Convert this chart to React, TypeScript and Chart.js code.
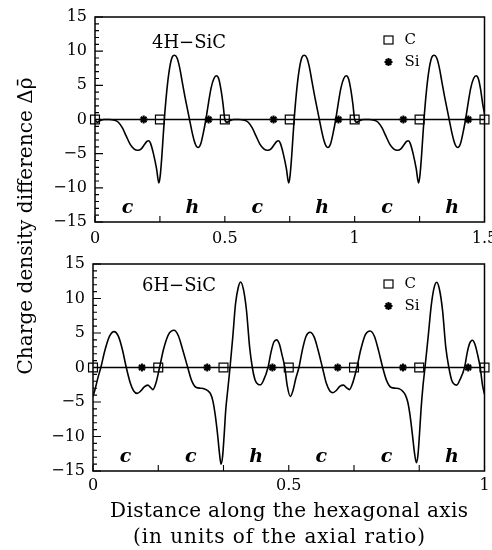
import { useEffect, useRef } from 'react';
import { Chart, registerables } from 'chart.js';

Chart.register(...registerables);

// Charge density difference along the c axis, 4H-SiC: [distance, delta rho]
const fourHProfile: [number, number][] = [
  [0, 0], [0.008, -0.4], [0.018, -0.2], [0.035, 0], [0.055, 0], [0.075, -0.1], [0.09, -0.4], [0.105, -1.2],
  [0.12, -2.4], [0.135, -3.6], [0.15, -4.3], [0.165, -4.5], [0.178, -4.3], [0.19, -3.7], [0.2, -3.2], [0.207, -3.1],
  [0.214, -3.5], [0.225, -5.0], [0.237, -7.2], [0.246, -9.3], [0.251, -8.3], [0.257, -5.6], [0.263, -2.2], [0.269, 1.0],
  [0.277, 4.4], [0.286, 7.2], [0.296, 9.0], [0.306, 9.4], [0.316, 9.0], [0.326, 7.6], [0.335, 5.7], [0.345, 3.6],
  [0.355, 1.7], [0.364, 0], [0.373, -1.7], [0.382, -3.1], [0.39, -3.9], [0.397, -4.1], [0.407, -3.6], [0.417, -2.0],
  [0.427, 0], [0.437, 2.4], [0.447, 4.6], [0.458, 6.0], [0.468, 6.4], [0.477, 5.9], [0.485, 4.4], [0.493, 2.3],
  [0.5, 0], [0.508, -0.4], [0.518, -0.2], [0.535, 0], [0.555, 0], [0.575, -0.1], [0.59, -0.4], [0.605, -1.2],
  [0.62, -2.4], [0.635, -3.6], [0.65, -4.3], [0.665, -4.5], [0.678, -4.3], [0.69, -3.7], [0.7, -3.2], [0.707, -3.1],
  [0.714, -3.5], [0.725, -5.0], [0.737, -7.2], [0.746, -9.3], [0.751, -8.3], [0.757, -5.6], [0.763, -2.2], [0.769, 1.0],
  [0.777, 4.4], [0.786, 7.2], [0.796, 9.0], [0.806, 9.4], [0.816, 9.0], [0.826, 7.6], [0.835, 5.7], [0.845, 3.6],
  [0.855, 1.7], [0.864, 0], [0.873, -1.7], [0.882, -3.1], [0.89, -3.9], [0.897, -4.1], [0.907, -3.6], [0.917, -2.0],
  [0.927, 0], [0.937, 2.4], [0.947, 4.6], [0.958, 6.0], [0.968, 6.4], [0.977, 5.9], [0.985, 4.4], [0.993, 2.3],
  [1.0, 0], [1.008, -0.4], [1.018, -0.2], [1.035, 0], [1.055, 0], [1.075, -0.1], [1.09, -0.4], [1.105, -1.2],
  [1.12, -2.4], [1.135, -3.6], [1.15, -4.3], [1.165, -4.5], [1.178, -4.3], [1.19, -3.7], [1.2, -3.2], [1.207, -3.1],
  [1.214, -3.5], [1.225, -5.0], [1.237, -7.2], [1.246, -9.3], [1.251, -8.3], [1.257, -5.6], [1.263, -2.2], [1.269, 1.0],
  [1.277, 4.4], [1.286, 7.2], [1.296, 9.0], [1.306, 9.4], [1.316, 9.0], [1.326, 7.6], [1.335, 5.7], [1.345, 3.6],
  [1.355, 1.7], [1.364, 0], [1.373, -1.7], [1.382, -3.1], [1.39, -3.9], [1.397, -4.1], [1.407, -3.6], [1.417, -2.0],
  [1.427, 0], [1.437, 2.4], [1.447, 4.6], [1.458, 6.0], [1.468, 6.4], [1.477, 5.9], [1.485, 4.4], [1.493, 2.3], [1.5, 0.8],
];

// Charge density difference along the c axis, 6H-SiC: [distance, delta rho]
const sixHProfile: [number, number][] = [
  [0, -4.2], [0.006, -3.0], [0.013, -1.4], [0.02, 0], [0.03, 2.4], [0.042, 4.5], [0.054, 5.2], [0.065, 4.5],
  [0.075, 2.6], [0.085, 0], [0.095, -2.2], [0.104, -3.4], [0.113, -3.75], [0.122, -3.4], [0.131, -2.8], [0.14, -2.55],
  [0.147, -2.9], [0.153, -3.2], [0.16, -2.4], [0.17, 0], [0.18, 2.6], [0.193, 4.8], [0.207, 5.4], [0.218, 4.6],
  [0.23, 2.4], [0.242, 0], [0.252, -1.9], [0.264, -2.9], [0.275, -3.0], [0.285, -3.1], [0.294, -3.4], [0.3, -3.8],
  [0.306, -4.8], [0.312, -6.8], [0.318, -9.6], [0.323, -12.4], [0.327, -14.0], [0.331, -12.9], [0.335, -9.8], [0.339, -6.2],
  [0.345, -2.8], [0.35, 0], [0.357, 4.4], [0.364, 9.2], [0.371, 11.6], [0.377, 12.4], [0.384, 11.4], [0.392, 8.3],
  [0.4, 3.0], [0.407, 0], [0.414, -1.8], [0.421, -2.4], [0.428, -2.5], [0.436, -1.8], [0.447, 0], [0.455, 2.3],
  [0.462, 3.7], [0.469, 4.0], [0.476, 3.4], [0.483, 1.8], [0.49, 0], [0.496, -2.6],
  [0.504, -4.2], [0.511, -3.3], [0.518, -1.6], [0.526, 0], [0.535, 2.6], [0.544, 4.5], [0.554, 5.1], [0.565, 4.4],
  [0.575, 2.5], [0.586, 0], [0.596, -2.3], [0.605, -3.4], [0.613, -3.65], [0.622, -3.3], [0.631, -2.7], [0.64, -2.55],
  [0.647, -2.9], [0.655, -3.2], [0.663, -2.3], [0.674, 0], [0.684, 2.6], [0.696, 4.8], [0.708, 5.3], [0.719, 4.5],
  [0.73, 2.3], [0.74, 0], [0.75, -1.9], [0.762, -2.9], [0.773, -3.0], [0.783, -3.1], [0.792, -3.5], [0.798, -4.0],
  [0.804, -5.0], [0.81, -7.0], [0.816, -9.8], [0.821, -12.3], [0.826, -13.8], [0.83, -12.7], [0.834, -9.6], [0.838, -6.0],
  [0.843, -2.6], [0.848, 0], [0.856, 4.4], [0.864, 9.0], [0.871, 11.5], [0.878, 12.35], [0.885, 11.3], [0.893, 8.2],
  [0.901, 3.0], [0.909, 0], [0.916, -1.8], [0.922, -2.4], [0.929, -2.55], [0.937, -1.8], [0.949, 0], [0.956, 2.2],
  [0.962, 3.5], [0.969, 3.95], [0.976, 3.3], [0.983, 1.7], [0.989, 0], [0.995, -2.6], [1.0, -3.9],
];

// Atomic positions along the axis
const fourHCarbon = [0, 0.25, 0.5, 0.75, 1, 1.25, 1.5];
const fourHSilicon = [0.1875, 0.4375, 0.6875, 0.9375, 1.1875, 1.4375];
const sixHCarbon = [0, 0.1667, 0.3333, 0.5, 0.6667, 0.8333, 1];
const sixHSilicon = [0.125, 0.2917, 0.4583, 0.625, 0.7917, 0.9583];

// Stacking sites (cubic / hexagonal) and the centre of each layer
const fourHSites = ['c', 'h', 'c', 'h', 'c', 'h'];
const fourHSiteCentres = [0.125, 0.375, 0.625, 0.875, 1.125, 1.375];
const sixHSites = ['c', 'c', 'h', 'c', 'c', 'h'];
const sixHSiteCentres = [0.0833, 0.25, 0.4167, 0.5833, 0.75, 0.9167];

// Axis ticks
const densityTicks = [-15, -14, -13, -12, -11, -10, -9, -8, -7, -6, -5, -4, -3, -2, -1, 0, 1, 2, 3, 4, 5, 6, 7, 8, 9, 10, 11, 12, 13, 14, 15];
const densityLabels = [-15, -10, -5, 0, 5, 10, 15];
const fourHDistanceTicks = [0, 0.25, 0.5, 0.75, 1, 1.25, 1.5];
const fourHDistanceLabels = [0, 0.5, 1, 1.5];
const sixHDistanceTicks = [0, 0.1667, 0.3333, 0.5, 0.6667, 0.8333, 1];
const sixHDistanceLabels = [0, 0.5, 1];

const SERIF = '"DejaVu Serif", serif';
const has = (list: number[], v: number) => list.some((l) => Math.abs(l - v) < 1e-6);
const fmt = (v: number) => (v < 0 ? '\u2212' + Math.abs(v) : String(v));

type PanelProps = {
  top: number;
  height: number;
  area: { left: number; top: number; right: number; bottom: number };
  xMax: number;
  profile: [number, number][];
  carbon: number[];
  silicon: number[];
  sites: string[];
  siteCentres: number[];
  xTicks: number[];
  xLabels: number[];
  name: string;
  nameDx: number;
  nameDy: number;
  legendDy: number;
  xPad: number;
  yPad: number;
};

function Panel(p: PanelProps) {
  const ref = useRef<HTMLCanvasElement>(null);

  useEffect(() => {
    const canvas = ref.current;
    if (!canvas) return;

    const frame = {
      id: 'frame',
      afterDraw(chart: any) {
        const { ctx, chartArea: a, scales } = chart;
        const xs = scales.x;
        const ys = scales.y;
        ctx.save();
        ctx.strokeStyle = '#000';
        ctx.fillStyle = '#000';
        ctx.lineWidth = 1.5;
        ctx.strokeRect(a.left, a.top, a.right - a.left, a.bottom - a.top);

        // inward tick marks
        ctx.lineWidth = 1.1;
        ctx.beginPath();
        for (const t of xs.ticks) {
          const px = xs.getPixelForValue(t.value);
          ctx.moveTo(px, a.bottom);
          ctx.lineTo(px, a.bottom - 6);
        }
        for (const t of ys.ticks) {
          const py = ys.getPixelForValue(t.value);
          const len = has(densityLabels, t.value) ? 8 : 4;
          ctx.moveTo(a.left, py);
          ctx.lineTo(a.left + len, py);
        }
        ctx.stroke();

        // polytype name
        ctx.textAlign = 'center';
        ctx.textBaseline = 'middle';
        ctx.font = `18px ${SERIF}`;
        ctx.fillText(p.name, a.left + p.nameDx, a.top + p.nameDy);

        // stacking site letters
        ctx.font = `italic bold 19px ${SERIF}`;
        p.sites.forEach((s, i) => {
          ctx.fillText(s, xs.getPixelForValue(p.siteCentres[i]), a.bottom - 14);
        });

        // legend
        const gx = a.right - 96;
        const y1 = a.top + p.legendDy;
        const y2 = y1 + 22;
        ctx.lineWidth = 1.2;
        ctx.strokeRect(gx - 4.5, y1 - 4, 9, 8);
        ctx.lineWidth = 2;
        ctx.beginPath();
        const r = 4;
        for (let k = 0; k < 4; k++) {
          const ang = (k * Math.PI) / 4;
          ctx.moveTo(gx - r * Math.cos(ang), y2 - r * Math.sin(ang));
          ctx.lineTo(gx + r * Math.cos(ang), y2 + r * Math.sin(ang));
        }
        ctx.stroke();
        ctx.textAlign = 'left';
        ctx.font = `15px ${SERIF}`;
        ctx.fillText('C', a.right - 80, y1);
        ctx.fillText('Si', a.right - 80, y2);
        ctx.restore();
      },
    };

    const chart = new Chart(canvas, {
      type: 'line',
      data: {
        datasets: [
          {
            label: 'Si',
            data: p.silicon.map((x) => ({ x, y: 0 })),
            showLine: false,
            pointStyle: 'star',
            pointRadius: 4,
            pointBorderWidth: 2,
            pointBorderColor: '#000',
            pointBackgroundColor: '#000',
            clip: false as any,
          },
          {
            label: 'C',
            data: p.carbon.map((x) => ({ x, y: 0 })),
            showLine: false,
            pointStyle: 'rect',
            pointRadius: 6.3,
            pointBorderWidth: 1.2,
            pointBorderColor: '#000',
            pointBackgroundColor: 'rgba(0,0,0,0)',
            clip: false as any,
          },
          {
            label: 'axis',
            data: [{ x: 0, y: 0 }, { x: p.xMax, y: 0 }],
            borderColor: '#000',
            borderWidth: 1.4,
            pointRadius: 0,
          },
          {
            label: 'delta rho',
            data: p.profile.map(([x, y]) => ({ x, y })),
            borderColor: '#000',
            borderWidth: 1.6,
            pointRadius: 0,
            cubicInterpolationMode: 'monotone',
            fill: false,
          },
        ],
      },
      options: {
        animation: false,
        responsive: false,
        devicePixelRatio: 1,
        events: [],
        layout: {
          padding: { left: 0, top: p.area.top, right: 492 - p.area.right, bottom: 0 },
        },
        plugins: { legend: { display: false }, tooltip: { enabled: false } },
        scales: {
          x: {
            type: 'linear',
            min: 0,
            max: p.xMax,
            grid: { display: false, drawTicks: false },
            border: { display: false },
            afterBuildTicks: (s: any) => {
              s.ticks = p.xTicks.map((value) => ({ value }));
            },
            afterFit: (s: any) => {
              s.height = p.height - p.area.bottom;
              s.paddingLeft = 0;
              s.paddingRight = 0;
            },
            ticks: {
              autoSkip: false,
              maxRotation: 0,
              padding: p.xPad,
              color: '#000',
              font: { family: SERIF, size: 16 },
              callback: (v: any) => (has(p.xLabels, Number(v)) ? fmt(Number(v)) : ''),
            },
          },
          y: {
            type: 'linear',
            min: -15,
            max: 15,
            grid: { display: false, drawTicks: false },
            border: { display: false },
            afterBuildTicks: (s: any) => {
              s.ticks = densityTicks.map((value) => ({ value }));
            },
            afterFit: (s: any) => {
              s.width = p.area.left;
              s.paddingTop = 0;
              s.paddingBottom = 0;
            },
            ticks: {
              autoSkip: false,
              padding: p.yPad,
              color: '#000',
              font: { family: SERIF, size: 16 },
              callback: (v: any) => (has(densityLabels, Number(v)) ? fmt(Number(v)) : ''),
            },
          },
        },
      } as any,
      plugins: [frame],
    });

    return () => chart.destroy();
  }, []);

  return (
    <canvas
      ref={ref}
      width={492}
      height={p.height}
      style={{ position: 'absolute', left: 0, top: p.top, width: 492, height: p.height }}
    />
  );
}

export default function App() {
  return (
    <div style={{ position: 'absolute', left: 0, top: 0, width: 492, height: 550, background: '#fff', overflow: 'hidden' }}>
      <Panel
        top={0}
        height={250}
        area={{ left: 95, top: 17, right: 487, bottom: 222 }}
        xMax={1.5}
        profile={fourHProfile}
        carbon={fourHCarbon}
        silicon={fourHSilicon}
        sites={fourHSites}
        siteCentres={fourHSiteCentres}
        xTicks={fourHDistanceTicks}
        xLabels={fourHDistanceLabels}
        name={'4H\u2212SiC'}
        nameDx={94}
        nameDy={26}
        legendDy={23}
        xPad={7}
        yPad={8}
      />
      <Panel
        top={250}
        height={250}
        area={{ left: 93, top: 14, right: 485, bottom: 221 }}
        xMax={1}
        profile={sixHProfile}
        carbon={sixHCarbon}
        silicon={sixHSilicon}
        sites={sixHSites}
        siteCentres={sixHSiteCentres}
        xTicks={sixHDistanceTicks}
        xLabels={sixHDistanceLabels}
        name={'6H\u2212SiC'}
        nameDx={86}
        nameDy={22}
        legendDy={20}
        xPad={5}
        yPad={8}
      />
      <svg
        width={492}
        height={550}
        style={{ position: 'absolute', left: 0, top: 0, pointerEvents: 'none' }}
      >
        <text
          transform="translate(32,226) rotate(-90)"
          textAnchor="middle"
          fontFamily={SERIF}
          fontSize={20}
          textLength={297}
          lengthAdjust="spacing"
          fill="#000"
        >
          Charge density difference {'\u0394\u03C1\u0304'}
        </text>
        <text
          x={289}
          y={517}
          textAnchor="middle"
          fontFamily={SERIF}
          fontSize={20}
          textLength={358}
          lengthAdjust="spacing"
          fill="#000"
        >
          Distance along the hexagonal axis
        </text>
        <text
          x={279}
          y={543}
          textAnchor="middle"
          fontFamily={SERIF}
          fontSize={20}
          textLength={292}
          lengthAdjust="spacing"
          fill="#000"
        >
          (in units of the axial ratio)
        </text>
      </svg>
    </div>
  );
}
